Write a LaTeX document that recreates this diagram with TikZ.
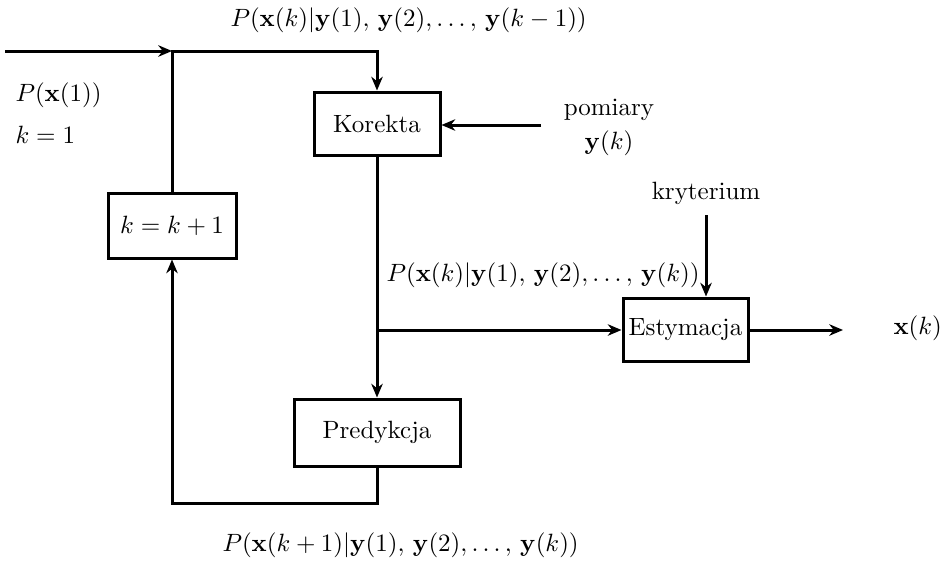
\documentclass[tikz,border=0pt]{standalone}
\usetikzlibrary{arrows.meta}
\begin{document}
\begin{tikzpicture}[x=0.4pt,y=-0.4pt,
  blk/.style={draw,line width=1.2pt,inner sep=0pt,minimum width=#1},
  arr/.style={line width=1.2pt,-{Stealth[length=5.5pt,width=4.6pt]}},
  lbl/.style={inner sep=0pt}]
\useasboundingbox (0,0) rectangle (952,560);
% blocks
\node[blk=50.4pt,minimum height=25.2pt] (kor) at (377,123.5) {Korekta};
\node[blk=51.2pt,minimum height=26pt] (kbox) at (172,225.5) {$k=k+1$};
\node[blk=50pt,minimum height=25.2pt] (est) at (685.5,329.5) {Estymacja};
\node[blk=66.4pt,minimum height=26.8pt] (pred) at (377,432.5) {Predykcja};
% coordinates
\coordinate (start) at (5,51);
\coordinate (j) at (172,51);
\coordinate (c1) at (377,51);
\coordinate (pom) at (541,125);
\coordinate (split) at (377,330);
\coordinate (kry) at (706,215);
\coordinate (out) at (843,330);
\coordinate (b1) at (377,503);
\coordinate (b2) at (172,503);
% connectors
\draw[arr] (start) -- (j);
\draw[arr] (kbox.north) -- (j) -- (c1) -- (kor.north);
\draw[arr] (pom) -- (pom -| kor.east);
\draw[arr] (kor.south) -- (pred.north);
\draw[arr] (split) -- (split -| est.west);
\draw[arr] (kry) -- (kry |- est.north);
\draw[arr] (est.east |- out) -- (out);
\draw[arr] (pred.south) -- (b1) -- (b2) -- (kbox.south);
% labels
\node[lbl,anchor=west] (ltop) at (230,20) {$P(\mathbf{x}(k)|\mathbf{y}(1){,}\ \mathbf{y}(2),\ldots{,}\ \mathbf{y}(k-1))$};
\node[lbl,anchor=west] (lpx) at (15,95) {$P(\mathbf{x}(1))$};
\node[lbl,anchor=west] (lk1) at (15,135) {$k=1$};
\node[lbl] (lpom) at (609,110) {pomiary};
\node[lbl] (lyk) at (609,143) {$\mathbf{y}(k)$};
\node[lbl] (lkry) at (706,193) {kryterium};
\node[lbl,anchor=west] (lmid) at (386,275) {$P(\mathbf{x}(k)|\mathbf{y}(1){,}\ \mathbf{y}(2),\ldots{,}\ \mathbf{y}(k))$};
\node[lbl,anchor=west] (lxk) at (893,328) {$\mathbf{x}(k)$};
\node[lbl,anchor=west] (lbot) at (222,545) {$P(\mathbf{x}(k+1)|\mathbf{y}(1){,}\ \mathbf{y}(2),\ldots{,}\ \mathbf{y}(k))$};
\end{tikzpicture}
\end{document}
